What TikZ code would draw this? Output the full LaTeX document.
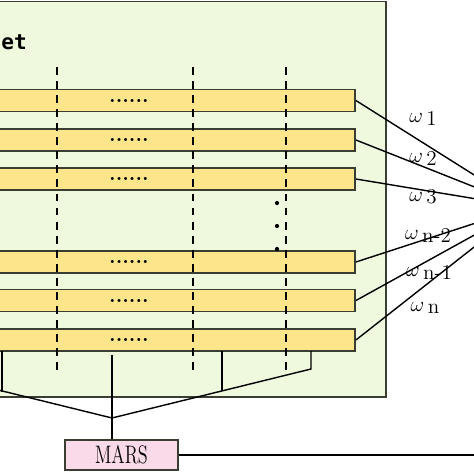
\documentclass[tikz,border=0pt]{standalone}
\usepackage{fontspec}
\setmonofont{DejaVu Sans Mono}
\usepackage{tikz}
\usetikzlibrary{arrows}
\definecolor{boxgreen}{RGB}{239,249,222}
\definecolor{baryellow}{RGB}{253,229,140}
\definecolor{marspink}{RGB}{250,218,232}
\definecolor{edgegray}{RGB}{58,62,50}

\tikzset{
    bar/.style={draw=edgegray, line width=1.1pt, fill=baryellow, minimum width=9.04cm, minimum height=0.44cm, inner sep=0pt, font=\large\bfseries},
    link/.style={black, line width=0.8pt},
    cut/.style={black, line width=0.8pt, dash pattern=on 4.5pt off 3.5pt},
    wlabel/.style={inner sep=1pt, font=\large}
}

\begin{document}
\begin{tikzpicture}[x=0.02cm, y=-0.02cm]
        \useasboundingbox (0,0) rectangle (474,474);
        \filldraw [fill=boxgreen, draw=edgegray, line width=1.1pt] (-120,1.5) rectangle (386,397);
        \node [anchor=west, font=\ttfamily\bfseries\large, inner sep=0pt] (title) at (1,42) {et};
        
        % trees
        \node [bar] (b1) at (129,100.5) {......};
        \node [bar] (b2) at (129,140) {......};
        \node [bar] (b3) at (129,179) {......};
        \node [bar] (b4) at (129,262) {......};
        \node [bar] (b5) at (129,300.5) {......};
        \node [bar] (b6) at (129,340) {......};
        
        \draw [cut] (57,67) -- (57,375);
        \draw [cut] (193,67) -- (193,375);
        \draw [cut] (286,67) -- (286,375);
        
        \foreach \y in {203,226,249}
            \fill (277,\y) circle (1.2pt);
        
        % weights
        \coordinate (sum) at (525,207);
        \foreach \i in {1,...,6}
            \draw [link] (b\i.east) -- (sum);
        \node [wlabel] (w1) at (423,118) {$\omega$\,\raisebox{-0.3ex}{1}};
        \node [wlabel] (w2) at (423,158) {$\omega$\,\raisebox{-0.3ex}{2}};
        \node [wlabel] (w3) at (423,197) {$\omega$\,\raisebox{-0.3ex}{3}};
        \node [wlabel] (w4) at (428,235) {$\omega$\,\raisebox{-0.3ex}{n-2}};
        \node [wlabel] (w5) at (429,272) {$\omega$\,\raisebox{-0.3ex}{n-1}};
        \node [wlabel] (w6) at (425,308) {$\omega$\,\raisebox{-0.3ex}{n}};
        
        % MARS
        \node [draw=edgegray, line width=1.1pt, fill=marspink, minimum width=2.26cm, minimum height=0.6cm, font=\Large] (mars) at (121.5,455) {\scalebox{0.72}[1]{MARS}};
        \coordinate (join) at (112,418);
        \coordinate (out) at (530,455);
        \draw [link] (-87,351) -- (-87,369) -- (join) -- (311,369) -- (311,351);
        \draw [link] (2,351) -- (2,392);
        \draw [link] (222,351) -- (222,391);
        \draw [link] (112,355) -- (join) -- (join |- mars.north);
        \draw [link] (mars.east) -- (out);
\end{tikzpicture}
\end{document}
